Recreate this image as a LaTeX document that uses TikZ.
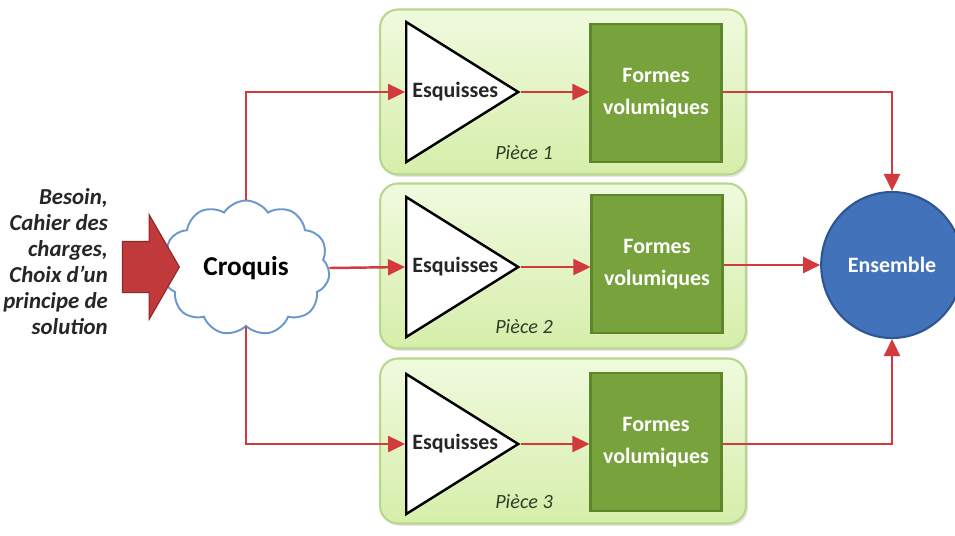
\documentclass[tikz,border=0pt]{standalone}
\usepackage{fontspec}
\setmainfont{Carlito}
\usepackage{tikz}
\usetikzlibrary{positioning, arrows.meta, shapes.geometric, shapes.symbols, shapes.arrows, shadows}
\usepackage{xcolor}
\definecolor{flowRed}{RGB}{210, 58, 62}
\definecolor{inRed}{RGB}{192, 57, 59}
\definecolor{inEdge}{RGB}{140, 40, 40}
\definecolor{cloudEdge}{RGB}{106, 152, 204}
\definecolor{panelTop}{RGB}{240, 250, 222}
\definecolor{panelBot}{RGB}{214, 238, 170}
\definecolor{panelEdge}{RGB}{184, 214, 140}
\definecolor{volFill}{RGB}{120, 163, 60}
\definecolor{volEdge}{RGB}{92, 134, 44}
\definecolor{ensFill}{RGB}{66, 115, 186}
\definecolor{ensEdge}{RGB}{45, 86, 146}
\definecolor{pieceText}{RGB}{50, 60, 40}

\begin{document}
\begin{tikzpicture}[
  x=0.02cm, y=-0.02cm,
  >={Triangle[length=3.4mm, width=3.2mm]},
  flow/.style={->, line width=1.4pt, flowRed},
  panel/.style={rounded corners=0.36cm, draw=panelEdge, line width=1.2pt,
    top color=panelTop, bottom color=panelBot,
    drop shadow={opacity=0.2, shadow xshift=0.4mm, shadow yshift=-0.5mm},
    minimum width=7.32cm, minimum height=3.3cm},
  esq/.style={isosceles triangle, isosceles triangle stretches, draw=black,
    line width=1.4pt, fill=white, inner sep=0pt,
    minimum width=2.8cm, minimum height=2.24cm},
  esqtext/.style={font=\fontsize{12.5}{15}\selectfont\bfseries, text=black!85, inner sep=0pt},
  vol/.style={draw=volEdge, line width=1.2pt, fill=volFill, text=white,
    minimum width=2.62cm, minimum height=2.76cm, align=center,
    font=\fontsize{12.5}{18}\selectfont\bfseries},
  piece/.style={font=\fontsize{11.5}{14}\selectfont\itshape, text=pieceText, inner sep=0pt}
]
  \useasboundingbox (0,0) rectangle (955,535);

  % panels for each part
  \node[panel] (p1) at (563,92) {};
  \node[panel] (p2) at (563,266) {};
  \node[panel] (p3) at (563,441) {};

  % sketches
  \node[esq, anchor=lower side] (esq1) at (405,92) {};
  \node[esq, anchor=lower side] (esq2) at (405,267) {};
  \node[esq, anchor=lower side] (esq3) at (405,444) {};
  \node[esqtext, right=0.14cm of esq1.lower side] (e1) {Esquisses};
  \node[esqtext, right=0.14cm of esq2.lower side] (e2) {Esquisses};
  \node[esqtext, right=0.14cm of esq3.lower side] (e3) {Esquisses};

  % volumes
  \node[vol] (vol1) at (656,93) {Formes\\volumiques};
  \node[vol] (vol2) at (657,264) {Formes\\volumiques};
  \node[vol] (vol3) at (656,442) {Formes\\volumiques};

  \node[piece] (pc1) at (524,153) {Pièce 1};
  \node[piece] (pc2) at (524,327) {Pièce 2};
  \node[piece] (pc3) at (524,502) {Pièce 3};

  % croquis and inputs
  \node[cloud, cloud puffs=11, cloud puff arc=115, cloud ignores aspect,
    draw=cloudEdge, line width=1.1pt, fill=white,
    minimum width=3.35cm, minimum height=2.7cm,
    font=\fontsize{15.5}{18}\selectfont\bfseries] (cro) at (246,268) {Croquis};
  \node[single arrow, fill=inRed, draw=inEdge, line width=0.6pt,
    minimum height=1.14cm, inner xsep=0pt, inner ysep=0.5cm,
    single arrow head extend=0.54cm, single arrow tip angle=120,
    anchor=tip] (inp) at (180,267) {};
  \node[align=right, anchor=east, text=black!85,
    font=\fontsize{13}{14.8}\selectfont\bfseries\itshape] (besoin) at (114,262)
    {Besoin,\\Cahier des\\charges,\\Choix d'un\\principe de\\solution};

  % ensemble
  \node[ellipse, draw=ensEdge, line width=1.2pt, fill=ensFill, text=white,
    minimum width=2.52cm, minimum height=2.92cm,
    font=\fontsize{12.5}{15}\selectfont\bfseries] (ens) at (892,265) {Ensemble};

  % flows
  \draw[flow] (cro.north) |- (esq1.lower side);
  \draw[flow] (cro.east) -- (esq2.lower side);
  \draw[flow] (cro.south) |- (esq3.lower side);
  \draw[flow] (esq1.apex) -- (vol1.west |- esq1.apex);
  \draw[flow] (esq2.apex) -- (vol2.west |- esq2.apex);
  \draw[flow] (esq3.apex) -- (vol3.west |- esq3.apex);
  \draw[flow] (vol1.east |- esq1.apex) -| (ens.north);
  \draw[flow] (vol2.east |- ens.west) -- (ens.west);
  \draw[flow] (vol3.east |- esq3.apex) -| (ens.south);
\end{tikzpicture}
\end{document}
